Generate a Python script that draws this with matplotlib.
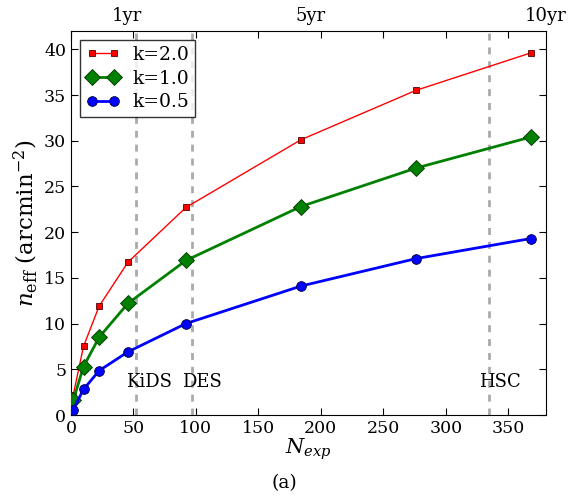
import matplotlib

matplotlib.use("Agg")
import matplotlib.pyplot as plt

# exposure counts and effective number density for three k values
n_exp = [1.8, 10, 22.5, 45.5, 92, 184, 276, 368]
neff_k20 = [2.2, 7.5, 11.9, 16.7, 22.7, 30.1, 35.5, 39.6]
neff_k10 = [1.6, 5.3, 8.5, 12.2, 16.9, 22.8, 27.0, 30.4]
neff_k05 = [0.6, 2.8, 4.85, 6.9, 10.0, 14.1, 17.1, 19.3]

surveys = ["KiDS", "DES", "HSC"]
survey_nexp = [52, 97, 335]

years = ["1yr", "5yr", "10yr"]
year_nexp = [36.8, 184, 368]

plt.rcParams["font.family"] = "DejaVu Serif"
plt.rcParams["mathtext.fontset"] = "dejavuserif"
plt.rcParams["xtick.direction"] = "in"
plt.rcParams["ytick.direction"] = "in"
plt.rcParams["xtick.top"] = True
plt.rcParams["ytick.right"] = True

fig = plt.figure(figsize=(5.69, 4.96), dpi=100)
ax = fig.add_axes([0.1248, 0.1633, 0.8342, 0.7742])

for xv in survey_nexp:
    ax.axvline(xv, ls="--", color="#aaaaaa", lw=2, dashes=(2.5, 2.5), zorder=1)

ax.plot(n_exp, neff_k20, "s-", color="red", lw=1, ms=4.5, mec="#550000", mew=0.6,
        label="k=2.0", zorder=3)
ax.plot(n_exp, neff_k10, "D-", color="green", lw=2, ms=8.5, mec="#003300", mew=0.6,
        label="k=1.0", zorder=3)
ax.plot(n_exp, neff_k05, "o-", color="blue", lw=2, ms=7, mec="#000033", mew=0.6,
        label="k=0.5", zorder=3)

for name, xv in zip(surveys, survey_nexp):
    ax.text(xv - 8, 3.6, name, ha="left", va="center", fontsize=13)

for name, xv in zip(years, year_nexp):
    ax.text(xv - 4.5, 43.6, name, ha="left", va="center", fontsize=13)

ax.set_xlim(0, 380)
ax.set_ylim(0, 42)
ax.set_xticks(range(0, 351, 50))
ax.set_yticks(range(0, 41, 5))
ax.tick_params(labelsize=12.5, length=5, width=0.8)
ax.set_xlabel(r"$N_{exp}$", fontsize=15, labelpad=0)
ax.set_ylabel(r"$n_{\rm eff}$ (arcmin$^{-2}$)", fontsize=16.5, labelpad=3)
fig.text(0.5, 0.026, "(a)", ha="center", va="center", fontsize=13.5)

leg = ax.legend(loc="upper left", numpoints=2, fontsize=13.5, fancybox=False,
                handlelength=1.8, handletextpad=0.7, borderpad=0.3,
                labelspacing=0.3, borderaxespad=0.5)
leg.get_frame().set_edgecolor("black")
leg.get_frame().set_linewidth(1.0)

fig.savefig("out.png", dpi=100)
